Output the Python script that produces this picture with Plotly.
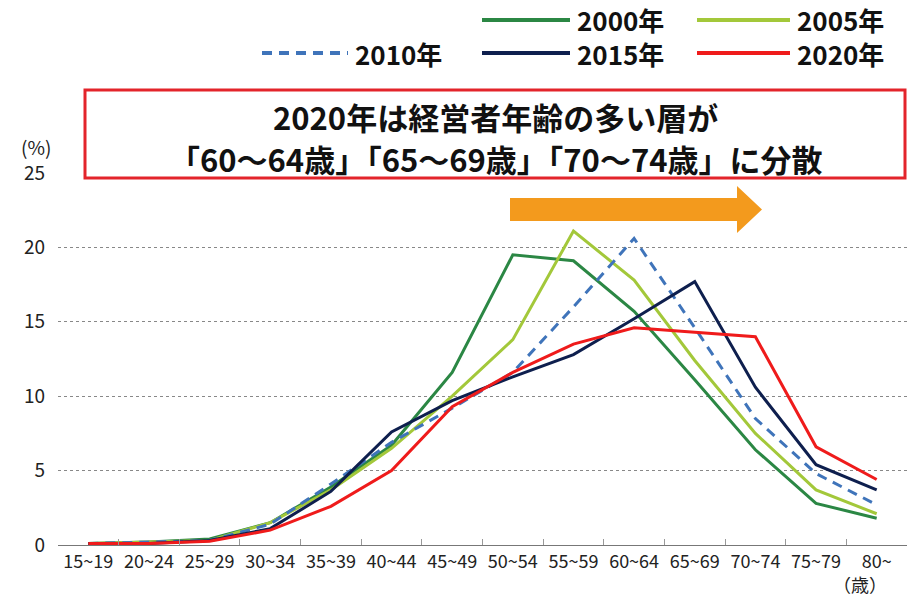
import plotly.graph_objects as go

# Age groups of business owners and share (%) by survey year
age_groups = ["15~19", "20~24", "25~29", "30~34", "35~39", "40~44", "45~49",
              "50~54", "55~59", "60~64", "65~69", "70~74", "75~79", "80~"]
share_2000 = [0.1, 0.2, 0.4, 1.5, 3.9, 6.7, 11.6, 19.5, 19.1, 15.7, 11.1, 6.4, 2.8, 1.8]
share_2005 = [0.1, 0.2, 0.3, 1.5, 3.7, 6.5, 10.0, 13.8, 21.1, 17.8, 12.4, 7.5, 3.7, 2.1]
share_2010 = [0.1, 0.2, 0.3, 1.4, 4.1, 6.9, 9.2, 11.6, 16.0, 20.6, 14.6, 8.5, 4.8, 2.7]
share_2015 = [0.1, 0.1, 0.3, 1.1, 3.6, 7.6, 9.7, 11.3, 12.8, 15.2, 17.7, 10.6, 5.4, 3.7]
share_2020 = [0.1, 0.1, 0.25, 1.0, 2.6, 5.0, 9.3, 11.6, 13.5, 14.6, 14.3, 14.0, 6.6, 4.4]

series_names = ["2000年", "2005年", "2010年", "2015年", "2020年"]
series_values = [share_2000, share_2005, share_2010, share_2015, share_2020]
series_colors = ["#2b8744", "#a3c83a", "#3f74ba", "#0e1f4e", "#ef1b1b"]
series_dash = ["solid", "solid", "10px,7px", "solid", "solid"]

y_ticks = [0, 5, 10, 15, 20, 25]

FONT = "Noto Sans CJK JP"
W, H = 910, 600
L, R, T, B = 58, 3, 173, 55
PW, PH = W - L - R, H - T - B


def px(x):
    return (x - L) / PW


def py(y):
    return (H - B - y) / PH


fig = go.Figure()
for name, vals, col, dash in zip(series_names, series_values, series_colors, series_dash):
    fig.add_trace(go.Scatter(
        x=age_groups, y=vals, mode="lines", name=name,
        line=dict(color=col, width=3, dash=dash),
        showlegend=False,
    ))

shapes = []
annotations = []

# Legend drawn as line samples + labels, arranged in two rows
legend_slots = [
    (0, 482, 570), (0, 697, 790),
    (1, 262, 348), (1, 482, 570), (1, 697, 790),
]
legend_rows_y = [20, 53]
for (row_i, x0, x1), name, col, dash in zip(
        legend_slots, series_names, series_colors, series_dash):
    yy = legend_rows_y[row_i]
    shapes.append(dict(type="line", xref="paper", yref="paper",
                       x0=px(x0), x1=px(x1), y0=py(yy), y1=py(yy),
                       line=dict(color=col, width=4, dash=dash)))
    annotations.append(dict(x=px(x1 + 5), y=py(yy), xref="paper", yref="paper",
                            text=name, showarrow=False, xanchor="left", yanchor="middle",
                            font=dict(family=FONT, size=26, color="#111", weight="bold")))

# Headline box
shapes.append(dict(type="rect", xref="paper", yref="paper",
                   x0=px(85), x1=px(905), y0=py(178), y1=py(90),
                   line=dict(color="#e3242b", width=3), fillcolor="white", layer="above"))
annotations.append(dict(x=px(495), y=py(117), xref="paper", yref="paper",
                        text="2020年は経営者年齢の多い層が", showarrow=False,
                        xanchor="center", yanchor="middle",
                        font=dict(family=FONT, size=31, color="#111", weight="bold")))
annotations.append(dict(x=px(495), y=py(158), xref="paper", yref="paper",
                        text="「60～64歳」「65～69歳」「70～74歳」に分散", showarrow=False,
                        xanchor="center", yanchor="middle",
                        font=dict(family=FONT, size=31, color="#111", weight="bold")))

# Orange arrow showing the shift to older ages
pts = [(510, 198), (737, 198), (737, 186), (762, 209.5), (737, 233), (737, 221), (510, 221)]
path = "M " + " L ".join(f"{px(a):.5f},{py(b):.5f}" for a, b in pts) + " Z"
shapes.append(dict(type="path", xref="paper", yref="paper", path=path,
                   fillcolor="#f39a1d", line=dict(width=0), layer="above"))

# Axis unit labels
annotations.append(dict(x=px(36), y=py(146), xref="paper", yref="paper",
                        text="(%)", showarrow=False, xanchor="center", yanchor="middle",
                        font=dict(family=FONT, size=19, color="#222")))
annotations.append(dict(x=px(860), y=py(599), xref="paper", yref="paper",
                        text="（歳）", showarrow=False, xanchor="center", yanchor="bottom",
                        font=dict(family=FONT, size=18, color="#222")))

fig.update_layout(
    width=W, height=H,
    margin=dict(l=L, r=R, t=T, b=B, pad=0),
    paper_bgcolor="white", plot_bgcolor="white",
    shapes=shapes, annotations=annotations,
    font=dict(family=FONT, color="#222"),
)
fig.update_xaxes(
    type="category", range=[-0.5, len(age_groups) - 0.5], automargin=False,
    showgrid=False, showline=True, linecolor="#777", linewidth=1,
    ticks="inside", tickson="boundaries", ticklen=6, tickcolor="#999",
    tickfont=dict(family=FONT, size=18, color="#222"),
    fixedrange=True,
)
fig.update_yaxes(
    range=[0, 25], tickvals=y_ticks, showgrid=True, gridcolor="#888", griddash="dot",
    gridwidth=1, zeroline=False, showline=False, ticks="", automargin=False,
    tickfont=dict(family=FONT, size=19, color="#222"), ticklabelstandoff=12,
    fixedrange=True,
)

fig.write_html("out.html")
